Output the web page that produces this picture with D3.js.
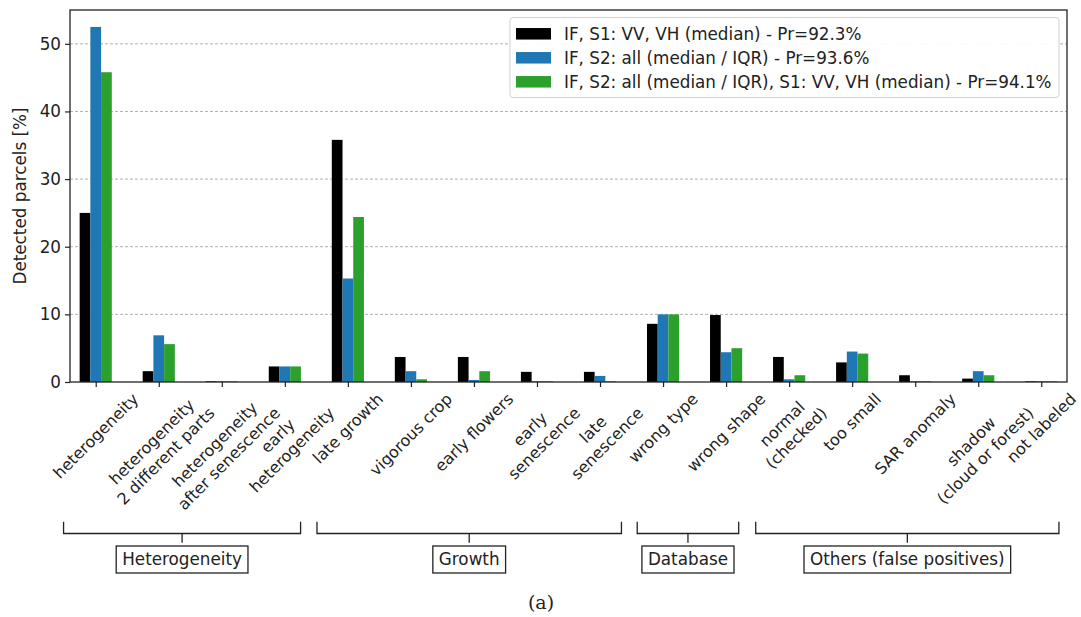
<!DOCTYPE html>
<html>
<head>
<meta charset="utf-8">
<script src="https://cdn.jsdelivr.net/npm/d3@7"></script>
<style>
  body { margin: 0; background: #fff; }
  svg { font-family: "DejaVu Sans", sans-serif; }
</style>
</head>
<body>
<div id="chart"></div>
<script>
// categories (line breaks as in the figure)
const categories = ["heterogeneity", "heterogeneity\n2 different parts", "heterogeneity\nafter senescence",
    "early\nheterogeneity", "late growth", "vigorous crop", "early flowers", "early\nsenescence",
    "late\nsenescence", "wrong type", "wrong shape", "normal\n(checked)", "too small", "SAR anomaly",
    "shadow\n(cloud or forest)", "not labeled"];

const seriesNames = ["IF, S1: VV, VH (median) - Pr=92.3%",
    "IF, S2: all (median / IQR) - Pr=93.6%",
    "IF, S2: all (median / IQR), S1: VV, VH (median) - Pr=94.1%"];
const seriesColors = ["#000000", "#1f77b4", "#2ca02c"];

const valuesS1 = [25.0, 1.6, 0.1, 2.3, 35.8, 3.7, 3.7, 1.5, 1.5, 8.6, 9.9, 3.7, 2.9, 1.0, 0.5, 0.1];
const valuesS2 = [52.5, 6.9, 0.1, 2.3, 15.3, 1.6, 0.3, 0.1, 0.9, 10.0, 4.4, 0.4, 4.5, 0.1, 1.6, 0.1];
const valuesS1S2 = [45.8, 5.6, 0.1, 2.3, 24.4, 0.4, 1.6, 0.1, 0.1, 10.0, 5.0, 1.0, 4.2, 0.1, 1.0, 0.1];

const yTicks = [0, 10, 20, 30, 40, 50];

// groups of categories, spans in category-index units
const groupNames = ["Heterogeneity", "Growth", "Database", "Others (false positives)"];
const groupStart = [-0.51, 3.51, 8.59, 10.47];
const groupEnd = [3.25, 8.34, 10.2, 15.28];

const width = 1081, height = 617;
const marginLeft = 70, marginRight = 14, marginTop = 10, axisBottom = 382;
const fs = 16.8;

const svg = d3.select("#chart").append("svg")
    .attr("width", width)
    .attr("height", height)
    .attr("viewBox", [0, 0, width, height]);

const x = d3.scalePoint(categories, [marginLeft, width - marginRight]).padding(0.408);
const y = d3.scaleLinear([0, 55], [axisBottom, marginTop]);
const step = x.step();
const idx = i => x(categories[0]) + i * step;
const barW = step * 0.17;

// grid lines
svg.append("g")
    .selectAll("line")
    .data(yTicks.filter(d => d > 0))
    .join("line")
    .attr("x1", marginLeft).attr("x2", width - marginRight)
    .attr("y1", d => y(d)).attr("y2", d => y(d))
    .attr("stroke", "#b0b0b0")
    .attr("stroke-width", 1)
    .attr("stroke-dasharray", "3,2");

// bars
const allSeries = [valuesS1, valuesS2, valuesS1S2];
allSeries.forEach((vals, k) => {
    svg.append("g")
        .attr("fill", seriesColors[k])
        .selectAll("rect")
        .data(vals)
        .join("rect")
        .attr("x", (d, i) => x(categories[i]) + (k - 1.5) * barW)
        .attr("y", d => y(d))
        .attr("width", barW)
        .attr("height", d => y(0) - y(d));
});

// y axis
svg.append("g")
    .attr("transform", `translate(${marginLeft},0)`)
    .call(d3.axisLeft(y).tickValues(yTicks).tickSize(5).tickPadding(4))
    .call(g => g.select(".domain").remove())
    .call(g => g.selectAll(".tick line").attr("stroke", "#222").attr("stroke-width", 1.2))
    .call(g => g.selectAll(".tick text")
        .attr("fill", "#222")
        .style("font-family", "DejaVu Sans")
        .style("font-size", fs + "px"));

svg.append("text")
    .attr("transform", `translate(20,${(marginTop + axisBottom) / 2}) rotate(-90)`)
    .attr("text-anchor", "middle")
    .attr("dy", "0.35em")
    .attr("fill", "#222")
    .style("font-size", fs + "px")
    .text("Detected parcels [%]");

// x axis ticks
svg.append("g")
    .attr("transform", `translate(0,${axisBottom})`)
    .call(d3.axisBottom(x).tickSize(5).tickFormat(""))
    .call(g => g.select(".domain").remove())
    .call(g => g.selectAll(".tick line").attr("stroke", "#222").attr("stroke-width", 1.2));

// rotated, multi-line tick labels
const fsTick = 16, lh = fsTick * 1.25, labelTop = axisBottom + 7;
const labG = svg.append("g").attr("fill", "#222").style("font-size", fsTick + "px");
categories.forEach(c => {
    const lines = c.split("\n");
    const g = labG.append("g");
    const t = g.append("text").attr("text-anchor", "middle");
    let W = 0;
    lines.forEach((ln, j) => {
        const ts = t.append("tspan")
            .attr("x", 0)
            .attr("y", (j - (lines.length - 1) / 2) * lh)
            .attr("dy", "0.35em")
            .text(ln);
        W = Math.max(W, ts.node().getComputedTextLength());
    });
    const S = (W + lines.length * lh) * Math.SQRT1_2;
    g.attr("transform", `translate(${x(c)},${labelTop + S / 2}) rotate(-45)`);
});

// frame
svg.append("rect")
    .attr("x", marginLeft).attr("y", marginTop)
    .attr("width", width - marginRight - marginLeft)
    .attr("height", axisBottom - marginTop)
    .attr("fill", "none")
    .attr("stroke", "#222")
    .attr("stroke-width", 1.3);

// legend
const leg = svg.append("g");
leg.append("rect")
    .attr("x", 510).attr("y", 17.5)
    .attr("width", 549).attr("height", 80)
    .attr("rx", 3)
    .attr("fill", "white").attr("fill-opacity", 0.9)
    .attr("stroke", "#d0d0d0");
seriesNames.forEach((n, k) => {
    const cy = 33.8 + k * 24;
    leg.append("rect")
        .attr("x", 516).attr("y", cy - 5.75)
        .attr("width", 35).attr("height", 11.5)
        .attr("fill", seriesColors[k]);
    leg.append("text")
        .attr("x", 564).attr("y", cy)
        .attr("dy", "0.35em")
        .attr("fill", "#222")
        .style("font-size", fs + "px")
        .text(n);
});

// group brackets
const brTop = 521.7, brLine = 533.5, brTick = 542.7, boxTop = 546, boxH = 27;
const grp = svg.append("g");
groupNames.forEach((n, i) => {
    const x0 = idx(groupStart[i]), x1 = idx(groupEnd[i]), xm = (x0 + x1) / 2;
    grp.append("path")
        .attr("d", d3.line()([[x0, brTop], [x0, brLine], [x1, brLine], [x1, brTop]]))
        .attr("fill", "none").attr("stroke", "#222").attr("stroke-width", 1.3);
    grp.append("line")
        .attr("x1", xm).attr("x2", xm).attr("y1", brLine).attr("y2", brTick)
        .attr("stroke", "#222").attr("stroke-width", 1.3);
    const t = grp.append("text")
        .attr("x", xm).attr("y", boxTop + boxH / 2)
        .attr("dy", "0.35em")
        .attr("text-anchor", "middle")
        .attr("fill", "#222")
        .style("font-size", fs + "px")
        .text(n);
    const w = t.node().getComputedTextLength() + 12;
    grp.insert("rect", "text")
        .attr("x", xm - w / 2).attr("y", boxTop)
        .attr("width", w).attr("height", boxH)
        .attr("fill", "white").attr("stroke", "#222").attr("stroke-width", 1.3);
});

// subfigure caption
svg.append("text")
    .attr("x", 541).attr("y", 602)
    .attr("dy", "0.35em")
    .attr("text-anchor", "middle")
    .attr("fill", "#222")
    .style("font-family", "'DejaVu Serif', serif")
    .style("font-size", "19px")
    .text("(a)");
</script>
</body>
</html>
